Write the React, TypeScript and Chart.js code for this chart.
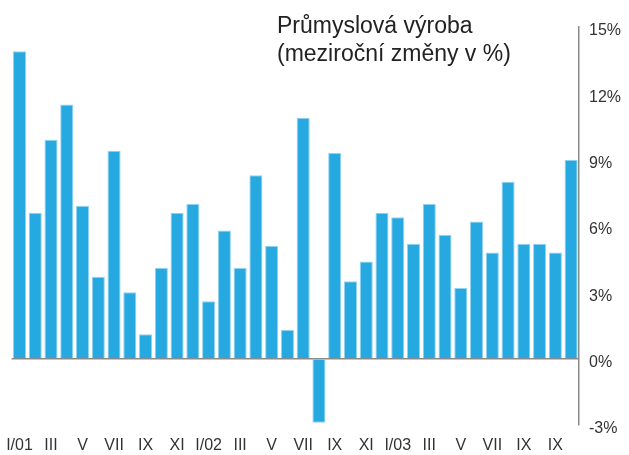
import React, { useEffect, useRef } from "react";
import { Chart, registerables } from "chart.js";

Chart.register(...registerables);

const months: string[] = [
  "I/01", "II", "III", "IV", "V", "VI", "VII", "VIII", "IX", "X", "XI", "XII",
  "I/02", "II", "III", "IV", "V", "VI", "VII", "VIII", "IX", "X", "XI", "XII",
  "I/03", "II", "III", "IV", "V", "VI", "VII", "VIII", "IX", "X", "XI", "XII",
];

const tickLabels: string[] = [
  "I/01", "III", "V", "VII", "IX", "XI",
  "I/02", "III", "V", "VII", "IX", "XI",
  "I/03", "III", "V", "VII", "IX", "IX",
];

const production: number[] = [
  13.9, 6.6, 9.9, 11.5, 6.9, 3.7, 9.4, 3.0, 1.1, 4.1, 6.6, 7.0,
  2.6, 5.8, 4.1, 8.3, 5.1, 1.3, 10.9, -2.9, 9.3, 3.5, 4.4, 6.6,
  6.4, 5.2, 7.0, 5.6, 3.2, 6.2, 4.8, 8.0, 5.2, 5.2, 4.8, 9.0,
];

const yTicks: number[] = [-3, 0, 3, 6, 9, 12, 15];

const titleLines: string[] = ["Průmyslová výroba", "(meziroční změny v %)"];

const FONT = "'Liberation Sans', Arial, Helvetica, sans-serif";

const titlePlugin = {
  id: "titleText",
  afterDraw(chart: any) {
    const ctx = chart.ctx;
    ctx.save();
    ctx.fillStyle = "#222222";
    ctx.font = `23px ${FONT}`;
    ctx.textAlign = "left";
    ctx.textBaseline = "alphabetic";
    ctx.fillText(titleLines[0], 277, 33);
    ctx.fillText(titleLines[1], 277, 61);
    ctx.restore();
  },
};

export default function App() {
  const canvasRef = useRef<HTMLCanvasElement | null>(null);

  useEffect(() => {
    if (!canvasRef.current) return;
    const chart = new Chart(canvasRef.current, {
      type: "bar",
      data: {
        labels: months,
        datasets: [
          {
            data: production,
            backgroundColor: "#25a9e0",
            borderColor: "#93d3f0",
            borderWidth: 1,
            barPercentage: 0.83,
            categoryPercentage: 1,
          },
        ],
      },
      options: {
        animation: false,
        responsive: false,
        maintainAspectRatio: false,
        layout: { padding: { left: 11.6, top: 27, right: 0, bottom: 0 } },
        plugins: {
          legend: { display: false },
          title: { display: false },
          tooltip: { enabled: false },
        },
        scales: {
          x: {
            grid: { display: false, drawTicks: false },
            border: { display: false },
            afterFit(scale: any) {
              scale.height = 30;
              scale.paddingLeft = 0;
              scale.paddingRight = 0;
            },
            ticks: {
              autoSkip: false,
              maxRotation: 0,
              minRotation: 0,
              padding: 11,
              color: "#333333",
              font: { family: FONT, size: 16 },
              callback: (_v: any, i: number) => (i % 2 === 0 ? tickLabels[i / 2] : ""),
            },
          },
          y: {
            position: "right",
            min: -3,
            max: 15,
            afterBuildTicks(scale: any) {
              scale.ticks = yTicks.map((v) => ({ value: v }));
            },
            afterFit(scale: any) {
              scale.width = 50;
              scale.paddingTop = 0;
              scale.paddingBottom = 0;
            },
            grid: {
              drawTicks: false,
              color: (c: any) => (c.tick && c.tick.value === 0 ? "#8a8a8a" : "rgba(0,0,0,0)"),
              lineWidth: 1.5,
            },
            border: { display: true, color: "#8a8a8a", width: 1.5 },
            ticks: {
              padding: 10,
              labelOffset: 4,
              color: "#333333",
              font: { family: FONT, size: 16 },
              callback: (v: any) => `${v}%`,
            },
          },
        },
      },
      plugins: [titlePlugin],
    });
    return () => chart.destroy();
  }, []);

  return (
    <div style={{ position: "absolute", left: 0, top: 0, width: 629, height: 455, background: "#ffffff" }}>
      <canvas ref={canvasRef} width={629} height={455} style={{ display: "block", width: 629, height: 455 }} />
    </div>
  );
}
